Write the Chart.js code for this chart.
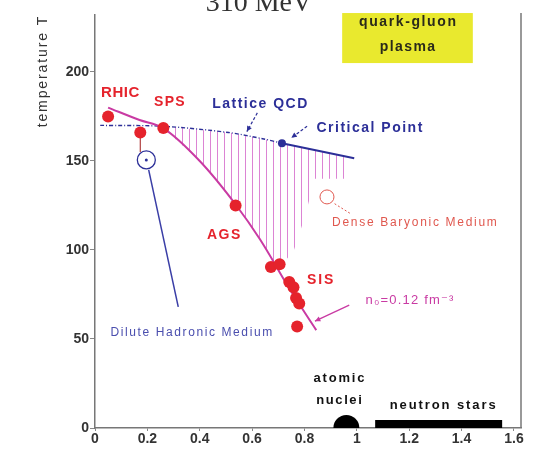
<!DOCTYPE html>
<html lang="pt-BR">
<head>
<meta charset="utf-8">
<title>Diagrama de fases da QCD</title>
<script src="https://cdn.jsdelivr.net/npm/chart.js@4.4.1/dist/chart.umd.min.js"></script>
<style>
  body { margin: 0; background: #fff; }
  .quadro { width: 534px; height: 462px; position: relative; }
</style>
</head>
<body>
<div class="quadro"><canvas id="diagrama"></canvas></div>
<script>
// Freeze-out químico: potencial bariônico (GeV) x temperatura T (MeV)
const rhicMu = [0.05];
const rhicT = [175];
const spsMu = [0.173, 0.261];
const spsT = [166, 168.5];
const agsMu = [0.537];
const agsT = [125];
const sisMu = [0.672, 0.705, 0.742, 0.758, 0.768, 0.78, 0.772];
const sisT = [90.5, 92, 82, 79, 73, 70, 57];

// Curva de freeze-out (magenta)
const curvaMu = [0.05, 0.17, 0.26, 0.40, 0.54, 0.63, 0.75, 0.845];
const curvaT = [180, 173, 168.5, 150, 125, 106, 76.5, 55];

// QCD na rede (tracejada) e linha depois do ponto crítico
const redeMu = [0.02, 0.26, 0.51, 0.64, 0.714];
const redeT = [170, 169.5, 166, 162.5, 160];
const criticaMu = [0.714, 0.99];
const criticaT = [160, 151.5];
const pontoCritico = [0.714, 160];

// Região hachurada: borda de cima e borda de baixo
const hachSupMu = [0.26, 0.51, 0.64, 0.714, 0.96];
const hachSupT = [169.5, 166, 162.5, 160, 152.3];
const hachInfMu = [0.26, 0.40, 0.54, 0.63, 0.70, 0.76, 0.80, 0.84, 0.96];
const hachInfT = [168.5, 150, 125, 106, 89, 100, 118, 140, 140];

// Meio hadrônico diluído
const diluidoMu = [0.205, 0.318];
const diluidoT = [145, 68];
const circuloDiluido = [0.196, 150.6];
const barraErroMu = [0.173, 0.173];
const barraErroT = [166, 155];

// Meio bariônico denso
const circuloDenso = [0.886, 129.8];

// Núcleos atômicos e estrelas de nêutrons
const nucleos = [0.96, 0];
const estrelasMu = [1.07, 1.555];
const estrelasT = [2.3, 2.3];

// Setas de indicação
const setaRedeMu = [0.62, 0.58];
const setaRedeT = [177, 166.5];
const setaCriticoMu = [0.81, 0.75];
const setaCriticoT = [169.5, 163];
const setaDensoMu = [0.915, 0.975];
const setaDensoT = [126, 120.5];
const setaN0Mu = [0.971, 0.84];
const setaN0T = [69, 60];

const ticksX = [0, 0.2, 0.4, 0.6, 0.8, 1, 1.2, 1.4, 1.6];
const ticksT = [0, 50, 100, 150, 200];

const FONTE = '"Liberation Sans", "DejaVu Sans", sans-serif';
const VERMELHO = '#e5232c';
const MAGENTA = '#c93aa3';
const AZUL = '#2c2f98';

// Textos do diagrama (posição em unidades dos eixos)
const rotulos = [
  { texto: 'RHIC', mu: 0.096, t: 188, cor: VERMELHO, fonte: 'bold 15px', esp: 0.5 },
  { texto: 'SPS', mu: 0.284, t: 183, cor: VERMELHO, fonte: 'bold 14px', esp: 1.3 },
  { texto: 'Lattice QCD', mu: 0.629, t: 182, cor: AZUL, fonte: 'bold 14px', esp: 1.5 },
  { texto: 'Critical Point', mu: 1.048, t: 168.5, cor: AZUL, fonte: 'bold 14px', esp: 1.5 },
  { texto: 'Dense Baryonic Medium', mu: 1.22, t: 115.2, cor: '#e0584f', fonte: '12px', esp: 1.7 },
  { texto: 'AGS', mu: 0.491, t: 108.4, cor: VERMELHO, fonte: 'bold 14px', esp: 1.5 },
  { texto: 'SIS', mu: 0.86, t: 83.1, cor: VERMELHO, fonte: 'bold 14px', esp: 1.8 },
  { texto: 'n₀=0.12 fm⁻³', mu: 1.201, t: 71.9, cor: MAGENTA, fonte: '13px', esp: 1.2 },
  { texto: 'Dilute Hadronic Medium', mu: 0.368, t: 53.4, cor: '#4a4eae', fonte: '12px', esp: 1.6 },
  { texto: 'atomic', mu: 0.932, t: 28.1, cor: '#111', fonte: 'bold 13px', esp: 1.8 },
  { texto: 'nuclei', mu: 0.932, t: 15.7, cor: '#111', fonte: 'bold 13px', esp: 1.6 },
  { texto: 'neutron stars', mu: 1.328, t: 12.9, cor: '#111', fonte: 'bold 13px', esp: 1.9 }
];

function pares(xs, ys) {
  return xs.map((x, i) => ({ x: x, y: ys[i] }));
}

// Padrão de listras verticais para a região hachurada
function hachura(ctx) {
  const c = document.createElement('canvas');
  c.width = 7;
  c.height = 8;
  const g = c.getContext('2d');
  g.strokeStyle = 'rgba(214,110,204,0.85)';
  g.lineWidth = 1;
  g.beginPath();
  g.moveTo(0.5, 0);
  g.lineTo(0.5, 8);
  g.stroke();
  return ctx.createPattern(c, 'repeat');
}

function escrever(ctx, texto, px, py, fonte, cor, esp) {
  ctx.save();
  ctx.font = fonte + ' ' + FONTE;
  ctx.fillStyle = cor;
  ctx.letterSpacing = esp + 'px';
  ctx.textAlign = 'center';
  ctx.textBaseline = 'middle';
  ctx.fillText(texto, px + esp / 2, py);
  ctx.restore();
}

function pontaSeta(ctx, x0, y0, x1, y1, cor) {
  const ang = Math.atan2(y1 - y0, x1 - x0);
  const tam = 6;
  ctx.save();
  ctx.fillStyle = cor;
  ctx.beginPath();
  ctx.moveTo(x1, y1);
  ctx.lineTo(x1 - tam * Math.cos(ang - 0.45), y1 - tam * Math.sin(ang - 0.45));
  ctx.lineTo(x1 - tam * Math.cos(ang + 0.45), y1 - tam * Math.sin(ang + 0.45));
  ctx.closePath();
  ctx.fill();
  ctx.restore();
}

// Textos, caixa do plasma, borda direita e pontas das setas
const anotacoes = {
  id: 'anotacoes',
  afterDatasetsDraw(chart) {
    const { ctx } = chart;
    chart.data.datasets.forEach((ds, i) => {
      if (!ds.seta) return;
      const pts = chart.getDatasetMeta(i).data;
      const a = pts[pts.length - 2];
      const b = pts[pts.length - 1];
      pontaSeta(ctx, a.x, a.y, b.x, b.y, ds.borderColor);
    });
  },
  afterDraw(chart) {
    const { ctx, chartArea: area, scales: { x, y } } = chart;

    // borda direita
    ctx.save();
    ctx.strokeStyle = '#777';
    ctx.lineWidth = 1.5;
    ctx.beginPath();
    ctx.moveTo(area.right, area.top - 2);
    ctx.lineTo(area.right, area.bottom);
    ctx.stroke();
    ctx.restore();

    // título cortado no alto
    ctx.save();
    ctx.font = '28px "Liberation Serif", "DejaVu Serif", serif';
    ctx.fillStyle = '#333';
    ctx.textAlign = 'center';
    ctx.textBaseline = 'alphabetic';
    ctx.fillText('310 MeV', 259, area.top - 4);
    ctx.restore();

    // título do eixo vertical
    ctx.save();
    ctx.translate(43, 72);
    ctx.rotate(-Math.PI / 2);
    escrever(ctx, 'temperature T', 0, 0, '14px', '#333', 1.9);
    ctx.restore();

    // caixa amarela do plasma de quarks e glúons
    const bx0 = x.getPixelForValue(0.944);
    const bx1 = x.getPixelForValue(1.443);
    const by0 = y.getPixelForValue(233.1);
    const by1 = y.getPixelForValue(205);
    ctx.save();
    ctx.fillStyle = '#e9e92e';
    ctx.fillRect(bx0, by0, bx1 - bx0, by1 - by0);
    ctx.restore();
    const cx = (bx0 + bx1) / 2;
    escrever(ctx, 'quark-gluon', cx, y.getPixelForValue(228), 'bold 14px', '#2a2a1a', 1.6);
    escrever(ctx, 'plasma', cx, y.getPixelForValue(214), 'bold 14px', '#2a2a1a', 1.4);

    rotulos.forEach(r => {
      escrever(ctx, r.texto, x.getPixelForValue(r.mu), y.getPixelForValue(r.t), r.fonte, r.cor, r.esp);
    });
  }
};

const ctx = document.getElementById('diagrama').getContext('2d');

new Chart(ctx, {
  type: 'scatter',
  data: {
    datasets: [
      {
        label: 'freeze-out',
        data: pares(rhicMu.concat(spsMu, agsMu, sisMu), rhicT.concat(spsT, agsT, sisT)),
        backgroundColor: VERMELHO,
        borderWidth: 0,
        pointRadius: 6
      },
      {
        label: 'ponto crítico',
        data: [{ x: pontoCritico[0], y: pontoCritico[1] }],
        backgroundColor: AZUL,
        borderWidth: 0,
        pointRadius: 4
      },
      {
        label: 'centro diluído',
        data: [{ x: circuloDiluido[0], y: circuloDiluido[1] }],
        backgroundColor: AZUL,
        borderWidth: 0,
        pointRadius: 1.5
      },
      {
        label: 'círculo diluído',
        data: [{ x: circuloDiluido[0], y: circuloDiluido[1] }],
        backgroundColor: '#fff',
        borderColor: AZUL,
        borderWidth: 1.3,
        pointRadius: 9
      },
      {
        label: 'círculo denso',
        data: [{ x: circuloDenso[0], y: circuloDenso[1] }],
        backgroundColor: 'rgba(255,255,255,0)',
        borderColor: '#e0584f',
        borderWidth: 1,
        pointRadius: 7
      },
      {
        label: 'barra de erro',
        data: pares(barraErroMu, barraErroT),
        showLine: true,
        borderColor: '#b04040',
        borderWidth: 1.2,
        pointRadius: 0
      },
      {
        label: 'curva de freeze-out',
        data: pares(curvaMu, curvaT),
        showLine: true,
        borderColor: MAGENTA,
        borderWidth: 2,
        pointRadius: 0,
        cubicInterpolationMode: 'monotone'
      },
      {
        label: 'Lattice QCD',
        data: pares(redeMu, redeT),
        showLine: true,
        borderColor: AZUL,
        borderWidth: 1.4,
        borderDash: [4, 2, 1, 2],
        pointRadius: 0,
        tension: 0.3
      },
      {
        label: 'linha crítica',
        data: pares(criticaMu, criticaT),
        showLine: true,
        borderColor: AZUL,
        borderWidth: 2,
        pointRadius: 0
      },
      {
        label: 'diluído',
        data: pares(diluidoMu, diluidoT),
        showLine: true,
        borderColor: '#3a3ea6',
        borderWidth: 1.5,
        pointRadius: 0
      },
      {
        label: 'seta rede',
        data: pares(setaRedeMu, setaRedeT),
        showLine: true,
        borderColor: AZUL,
        borderWidth: 1.2,
        borderDash: [3, 2],
        pointRadius: 0,
        seta: true
      },
      {
        label: 'seta crítico',
        data: pares(setaCriticoMu, setaCriticoT),
        showLine: true,
        borderColor: AZUL,
        borderWidth: 1.2,
        borderDash: [3, 2],
        pointRadius: 0,
        seta: true
      },
      {
        label: 'seta denso',
        data: pares(setaDensoMu, setaDensoT),
        showLine: true,
        borderColor: '#e0584f',
        borderWidth: 1,
        borderDash: [2, 2],
        pointRadius: 0
      },
      {
        label: 'seta n0',
        data: pares(setaN0Mu, setaN0T),
        showLine: true,
        borderColor: MAGENTA,
        borderWidth: 1.3,
        pointRadius: 0,
        seta: true
      },
      {
        label: 'núcleos',
        data: [{ x: nucleos[0], y: nucleos[1] }],
        backgroundColor: '#000',
        borderWidth: 0,
        pointRadius: 13,
        clip: 0
      },
      {
        label: 'estrelas de nêutrons',
        data: pares(estrelasMu, estrelasT),
        showLine: true,
        borderColor: '#000',
        borderWidth: 8,
        borderCapStyle: 'butt',
        pointRadius: 0
      },
      {
        label: 'hachura sup',
        data: pares(hachSupMu, hachSupT),
        showLine: true,
        borderWidth: 0,
        borderColor: 'rgba(0,0,0,0)',
        pointRadius: 0,
        backgroundColor: hachura(ctx),
        fill: '+1'
      },
      {
        label: 'hachura inf',
        data: pares(hachInfMu, hachInfT),
        showLine: true,
        borderWidth: 0,
        borderColor: 'rgba(0,0,0,0)',
        pointRadius: 0
      }
    ]
  },
  options: {
    responsive: true,
    maintainAspectRatio: false,
    animation: false,
    layout: { padding: { left: 0, top: 15, right: 12, bottom: 0 } },
    plugins: {
      legend: { display: false },
      tooltip: { enabled: false }
    },
    scales: {
      x: {
        type: 'linear',
        min: 0,
        max: 1.627,
        afterBuildTicks: s => { s.ticks = ticksX.map(v => ({ value: v })); },
        afterFit: s => { s.height = 34; },
        grid: { drawOnChartArea: false, drawTicks: true, tickLength: 3, color: '#888' },
        border: { color: '#777', width: 1.5 },
        ticks: {
          padding: 0,
          color: '#333',
          font: { family: FONTE, size: 14, weight: 'bold' },
          callback: v => String(Math.round(v * 10) / 10)
        }
      },
      y: {
        type: 'linear',
        min: 0,
        max: 232,
        afterBuildTicks: s => { s.ticks = ticksT.map(v => ({ value: v })); },
        afterFit: s => { s.width = 95; },
        grid: { drawOnChartArea: false, drawTicks: true, tickLength: 5, color: '#888' },
        border: { color: '#777', width: 1.5 },
        ticks: {
          padding: 1,
          color: '#333',
          font: { family: FONTE, size: 14, weight: 'bold' }
        }
      }
    }
  },
  plugins: [anotacoes]
});
</script>
</body>
</html>
